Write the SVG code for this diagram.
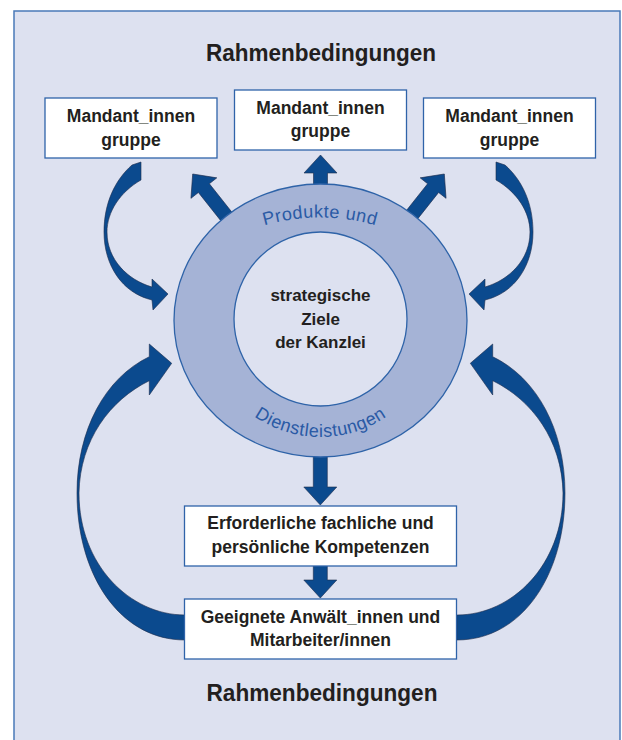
<svg xmlns="http://www.w3.org/2000/svg" xmlns:xlink="http://www.w3.org/1999/xlink" width="622" height="740" viewBox="0 0 622 740">
<style>
.frame{fill:#dde1f0;stroke:#4a79b8;stroke-width:1.5}
.box{fill:#ffffff;stroke:#2f63a9;stroke-width:1.3}
.t{font-family:"Liberation Sans",Arial,sans-serif;font-weight:bold;fill:#231f20;text-anchor:middle}
.title{font-size:23px}
.bt{font-size:17.5px}
.arr{fill:#0b4a8e;stroke:#1c2b4c;stroke-width:0.6;stroke-linejoin:miter}
.ring{fill:#a5b3d6;stroke:#2e63a8;stroke-width:1.3}
.inner{fill:#dde1f0;stroke:#2e63a8;stroke-width:1.3}
.arc{font-family:"Liberation Sans",Arial,sans-serif;font-size:18px;fill:#2a5aa5;letter-spacing:0.5px;text-anchor:middle}
</style>
<defs>
<path id="arrow" d="M0,0 L16.5,18 L7,18 L7,70 L-7,70 L-7,18 L-16.5,18 Z"/>
<path id="smallCurve" d="M132,165 L141,162 L141,180 C120,192 107,212 107,232 C107,260 128,280 152,287 L152,279 L168,294 L153,310 L152,300 C122,293 104,265 104,232 C104,203 115,180 132,165 Z"/>
<path id="bigCurve" d="M185,640 C120,640 77,575 77,493 C77,430 105,378 149.3,356.7 L149.3,344 L171.7,363.3 L149.3,395 L149.3,380.7 C110,400 80,440 79,493 C79,565 130,615 185,615 Z"/>
<path id="topArc" d="M120,417.5 A200,200 0 0 1 520,417.5"/>
<path id="bottomArc" d="M203.5,320 A117,117 0 0 0 437.5,320"/>
</defs>

<rect class="frame" x="14" y="11" width="606" height="740"/>

<g id="title-top"><text class="t title" x="321" y="61" textLength="230" lengthAdjust="spacingAndGlyphs">Rahmenbedingungen</text></g>

<g id="connectors">
<use href="#smallCurve" class="arr"/>
<use href="#smallCurve" class="arr" transform="translate(637,0) scale(-1,1)"/>
<use href="#bigCurve" class="arr"/>
<use href="#bigCurve" class="arr" transform="translate(642,0) scale(-1,1)"/>
<use href="#arrow" class="arr" transform="translate(320.5,155)"/>
<use href="#arrow" class="arr" transform="translate(192.7,174) rotate(-38.4)"/>
<use href="#arrow" class="arr" transform="translate(444.3,174) rotate(38.4)"/>
<use href="#arrow" class="arr" transform="translate(320.3,505) rotate(180)"/>
<use href="#arrow" class="arr" transform="translate(320.3,598) rotate(180)"/>
</g>

<g id="ring">
<ellipse class="ring" cx="320.5" cy="320.5" rx="146.5" ry="136.5"/>
<ellipse class="inner" cx="320.5" cy="319" rx="86.5" ry="87"/>
<text class="arc"><textPath href="#topArc" startOffset="50%">Produkte und</textPath></text>
<text class="arc"><textPath href="#bottomArc" startOffset="50%">Dienstleistungen</textPath></text>
<text class="t" style="font-size:17px" x="320.5" y="300.7">strategische</text>
<text class="t" style="font-size:17px" x="320.5" y="325">Ziele</text>
<text class="t" style="font-size:17px" x="320.5" y="348">der Kanzlei</text>
</g>

<g id="box-left">
<rect class="box" x="45" y="98" width="172" height="60"/>
<text class="t bt" x="131" y="122.3">Mandant_innen</text>
<text class="t bt" x="131" y="145.7">gruppe</text>
</g>
<g id="box-center">
<rect class="box" x="234.5" y="90" width="172" height="60"/>
<text class="t bt" x="320.5" y="114.3">Mandant_innen</text>
<text class="t bt" x="320.5" y="137">gruppe</text>
</g>
<g id="box-right">
<rect class="box" x="423.5" y="98" width="172" height="60"/>
<text class="t bt" x="509.5" y="122.3">Mandant_innen</text>
<text class="t bt" x="509.5" y="145.7">gruppe</text>
</g>

<g id="box-kompetenzen">
<rect class="box" x="184.5" y="506" width="272" height="60"/>
<text class="t bt" x="320.5" y="529.3">Erforderliche fachliche und</text>
<text class="t bt" x="320.5" y="552.7">persönliche Kompetenzen</text>
</g>
<g id="box-anwaelte">
<rect class="box" x="184.5" y="599" width="272" height="60"/>
<text class="t bt" x="320.5" y="622.7">Geeignete Anwält_innen und</text>
<text class="t bt" x="320.5" y="646">Mitarbeiter/innen</text>
</g>

<g id="title-bottom"><text class="t title" x="322" y="701" textLength="231" lengthAdjust="spacingAndGlyphs">Rahmenbedingungen</text></g>
</svg>
